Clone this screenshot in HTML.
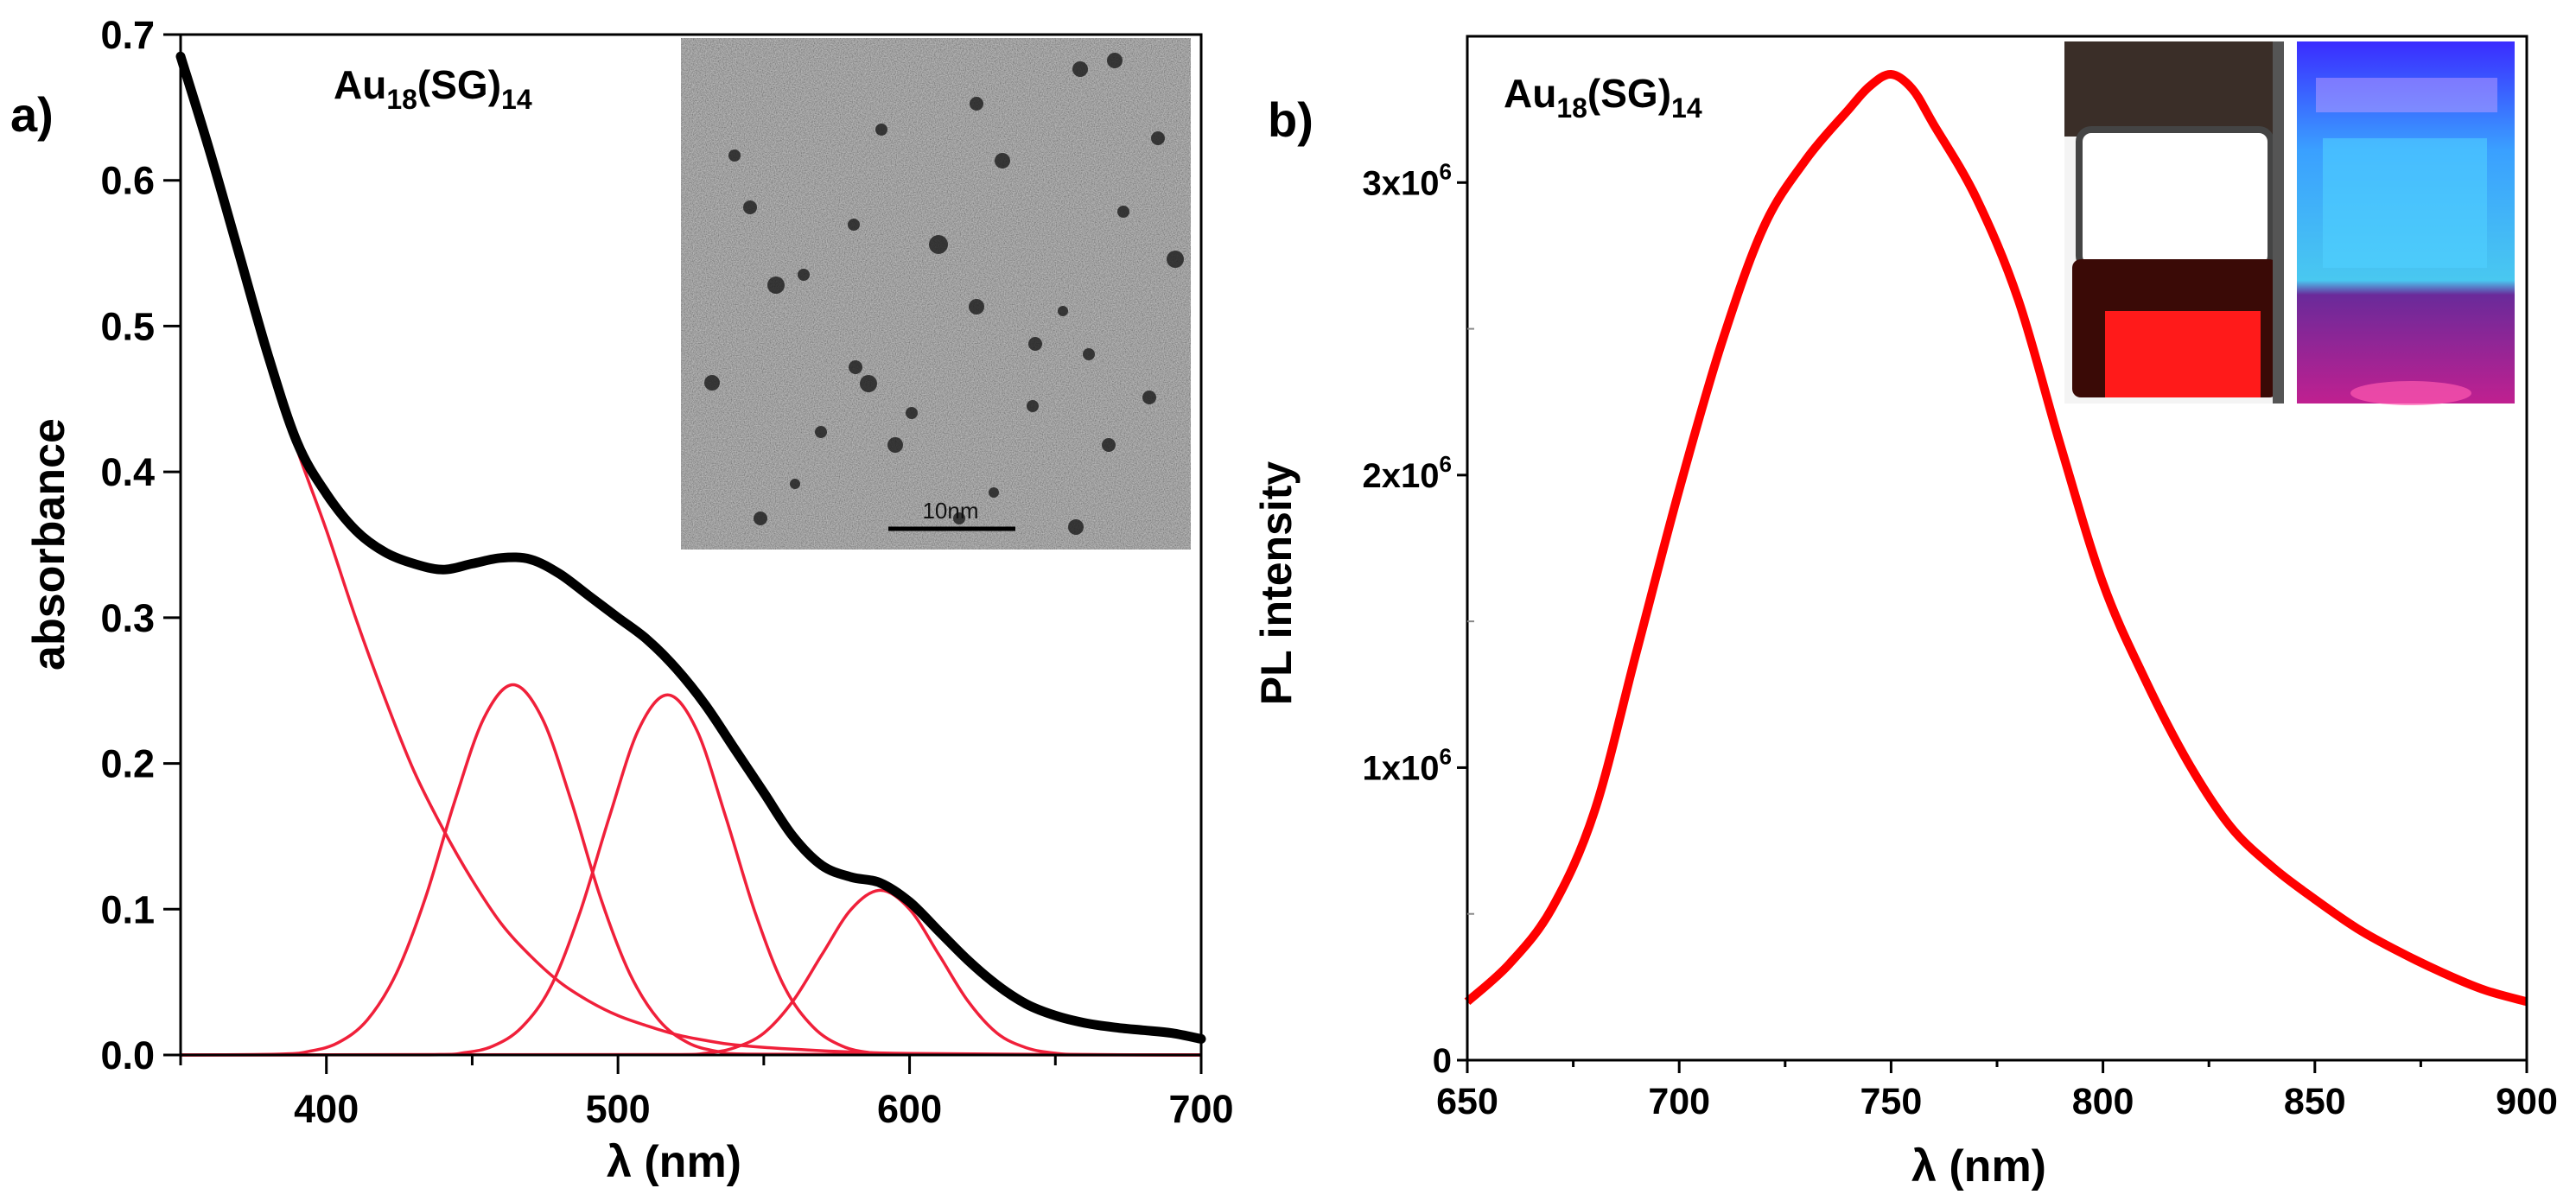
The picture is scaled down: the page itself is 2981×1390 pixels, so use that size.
<!DOCTYPE html>
<html><head><meta charset="utf-8">
<style>
html,body{margin:0;padding:0;background:#fff;}
svg{display:block;font-family:"Liberation Sans",Arial,sans-serif;font-weight:bold;}
</style></head>
<body>
<svg id="fig" width="2981" height="1390" viewBox="0 0 2981 1390" xmlns="http://www.w3.org/2000/svg">
<defs>
<filter id="noise" x="0" y="0" width="100%" height="100%">
<feTurbulence type="fractalNoise" baseFrequency="0.8" numOctaves="2" seed="3" result="t"/>
<feColorMatrix in="t" type="matrix" values="1.1 0 0 0 -0.05  1.1 0 0 0 -0.05  1.1 0 0 0 -0.05  0 0 0 0 1"/>
</filter>
<linearGradient id="blueg" x1="0" y1="0" x2="0" y2="1">
<stop offset="0" stop-color="#3a2cff"/><stop offset="0.3" stop-color="#3aa0ff"/><stop offset="0.66" stop-color="#49c8f0"/><stop offset="0.7" stop-color="#6a2a9a"/><stop offset="1" stop-color="#c02090"/>
</linearGradient>
</defs>
<g id="panelA"></g>
<g id="panelB"></g>
</svg>
<script>
// ---------- Panel a data ----------
const absX = [350,360,370,380,390,400,410,420,430,440,450,460,470,480,490,500,510,520,530,540,550,560,570,580,590,600,610,620,630,640,650,660,670,680,690,700];
const absY = [0.685,0.62,0.55,0.48,0.42,0.385,0.36,0.345,0.337,0.333,0.337,0.341,0.340,0.330,0.315,0.300,0.285,0.265,0.240,0.210,0.180,0.150,0.130,0.122,0.118,0.105,0.085,0.065,0.048,0.035,0.027,0.022,0.019,0.017,0.015,0.011];
const decayX = [350,360,370,380,390,400,410,420,430,440,450,460,470,480,490,500,510,520,530,540,560,600,700];
const decayY = [0.68,0.615,0.545,0.475,0.415,0.36,0.30,0.245,0.195,0.155,0.12,0.09,0.068,0.05,0.037,0.027,0.02,0.014,0.01,0.007,0.004,0.001,0.0];
const peak1X = [350,384,394,404,414,424,434,444,454,464,474,484,494,504,514,524,534,544,700];
const peak1Y = [0,0.0006,0.0025,0.0084,0.024,0.056,0.108,0.174,0.231,0.254,0.231,0.174,0.108,0.056,0.024,0.0084,0.0025,0.0006,0];
const peak2X = [350,437,447,457,467,477,487,497,507,517,527,537,547,557,567,577,587,597,700];
const peak2Y = [0,0.0003,0.0015,0.006,0.019,0.047,0.098,0.163,0.223,0.247,0.223,0.163,0.098,0.047,0.019,0.006,0.0015,0.0003,0];
const peak3X = [350,520,530,540,550,560,570,580,590,600,610,620,630,640,650,660,700];
const peak3Y = [0,0.0003,0.0012,0.005,0.015,0.037,0.069,0.100,0.113,0.100,0.069,0.037,0.015,0.005,0.0012,0.0003,0];
const aXTicks = [400,500,600,700];
const aXMinor = [450,550,650];
const aYTicks = [0,0.1,0.2,0.3,0.4,0.5,0.6,0.7];
const aYLabels = ["0.0","0.1","0.2","0.3","0.4","0.5","0.6","0.7"];

// ---------- Panel b data ----------
const plX = [650,660,670,680,690,700,710,720,730,740,745,750,755,760,770,780,790,800,810,820,830,840,850,860,870,880,890,900];
const plY = [0.2,0.33,0.52,0.85,1.4,1.95,2.45,2.85,3.08,3.25,3.33,3.37,3.32,3.2,2.95,2.6,2.1,1.63,1.3,1.02,0.8,0.66,0.55,0.45,0.37,0.3,0.24,0.2];
const bXTicks = [650,700,750,800,850,900];
const bXMinor = [675,725,775,825,875];
const bYTicks = [0,1,2,3];
const bYMinor = [0.5,1.5,2.5];

const NS = "http://www.w3.org/2000/svg";
function mk(parent, tag, attrs, text){
  const e = document.createElementNS(NS, tag);
  for (const k in attrs) e.setAttribute(k, attrs[k]);
  if (text !== undefined) e.textContent = text;
  parent.appendChild(e);
  return e;
}
// smooth path (monotone-ish Catmull-Rom)
function pathFrom(xs, ys, sx, sy){
  const P = xs.map((x,i)=>[sx(x), sy(ys[i])]);
  let d = "M"+P[0][0].toFixed(1)+","+P[0][1].toFixed(1);
  for (let i=0;i<P.length-1;i++){
    const p0=P[Math.max(0,i-1)], p1=P[i], p2=P[i+1], p3=P[Math.min(P.length-1,i+2)];
    const c1=[p1[0]+(p2[0]-p0[0])/6, p1[1]+(p2[1]-p0[1])/6];
    const c2=[p2[0]-(p3[0]-p1[0])/6, p2[1]-(p3[1]-p1[1])/6];
    c1[0]=Math.min(Math.max(c1[0],p1[0]),p2[0]); c2[0]=Math.min(Math.max(c2[0],p1[0]),p2[0]);
    const lo=Math.min(p1[1],p2[1]), hi=Math.max(p1[1],p2[1]);
    if (p1[1]===p2[1]){c1[1]=p1[1];c2[1]=p2[1];}
    d += " C"+c1[0].toFixed(1)+","+c1[1].toFixed(1)+" "+c2[0].toFixed(1)+","+c2[1].toFixed(1)+" "+p2[0].toFixed(1)+","+p2[1].toFixed(1);
  }
  return d;
}

// ===== Panel a =====
const A = document.getElementById('panelA');
const aL=209, aR=1390, aT=40, aB=1221;
const ax = v => aL + (v-350)/(700-350)*(aR-aL);
const ay = v => aB - (v-0)/(0.7)*(aB-aT);

// TEM inset
const tem = mk(A,'g',{});


mk(tem,'rect',{x:788,y:44,width:590,height:592,fill:'#808080'});
mk(tem,'rect',{x:788,y:44,width:590,height:592,filter:'url(#noise)',opacity:0.55});
const dots=[[1086,283,11],[1160,186,9],[898,330,10],[1130,355,9],[824,443,9],[1005,444,10],[1036,515,9],[1245,610,9],[1360,300,10],[990,425,8],[930,318,7],[1198,398,8],[868,240,8],[1250,80,9],[1290,70,9],[1130,120,8],[988,260,7],[1330,460,8],[1283,515,8],[1055,478,7],[1195,470,7],[1300,245,7],[1230,360,6],[880,600,8],[950,500,7],[1110,600,7],[1340,160,8],[1020,150,7],[850,180,7],[1150,570,6],[1260,410,7],[920,560,6]];
dots.forEach(d=>mk(tem,'circle',{cx:d[0],cy:d[1],r:d[2],fill:'#1a1a1a',opacity:0.8}));
mk(tem,'line',{x1:1028,y1:612,x2:1175,y2:612,stroke:'#000','stroke-width':5});
mk(tem,'text',{x:1100,y:600,'font-size':26,fill:'#111','text-anchor':'middle','font-weight':'normal'},'10nm');

// curves
const gauss = [[peak1X,peak1Y,'peak-1-464nm'],[peak2X,peak2Y,'peak-2-517nm'],[peak3X,peak3Y,'peak-3-590nm']];
gauss.forEach(g=>{
  const p = mk(A,'path',{d:pathFrom(g[0],g[1],ax,ay),fill:'none',stroke:'#f0203a','stroke-width':3.5,'stroke-linejoin':'round'});
  
  
});
const dec = mk(A,'path',{d:pathFrom(decayX,decayY,ax,ay),fill:'none',stroke:'#f0203a','stroke-width':3.5});


const abs = mk(A,'path',{d:pathFrom(absX,absY,ax,ay),fill:'none',stroke:'#000','stroke-width':11,'stroke-linejoin':'round','stroke-linecap':'round'});



// frame
const fa = mk(A,'rect',{x:aL,y:aT,width:aR-aL,height:aB-aT,fill:'none',stroke:'#000','stroke-width':3});


aXTicks.forEach(v=>{
  mk(A,'line',{x1:ax(v),y1:aB,x2:ax(v),y2:aB+22,stroke:'#000','stroke-width':3});
  const t = mk(A,'text',{x:ax(v),y:aB+78,'font-size':45,'text-anchor':'middle'},String(v));
  
  
});
aXMinor.forEach(v=>mk(A,'line',{x1:ax(v),y1:aB,x2:ax(v),y2:aB+12,stroke:'#000','stroke-width':3}));
mk(A,'line',{x1:aL,y1:aB,x2:aL,y2:aB+12,stroke:'#000','stroke-width':3});
aYTicks.forEach((v,i)=>{
  mk(A,'line',{x1:aL-20,y1:ay(v),x2:aL,y2:ay(v),stroke:'#000','stroke-width':3});
  const t = mk(A,'text',{x:aL-30,y:ay(v)+16,'font-size':45,'text-anchor':'end'},aYLabels[i]);
  
  
});
let t;
t = mk(A,'text',{x:780,y:1362,'font-size':52,'text-anchor':'middle'},'λ (nm)');
 
t = mk(A,'text',{x:0,y:0,'font-size':52,'text-anchor':'middle',transform:'translate(74,630) rotate(-90)'},'absorbance');
 
t = mk(A,'text',{x:12,y:152,'font-size':56},'a)');
 
t = mk(A,'text',{x:386,y:114,'font-size':46},'');
t.innerHTML = 'Au<tspan font-size="32" dy="12">18</tspan><tspan dy="-12">(SG)</tspan><tspan font-size="32" dy="12">14</tspan>';
 

// ===== Panel b =====
const B = document.getElementById('panelB');
const bL=1698, bR=2924, bT=42, bB=1227;
const bx = v => bL + (v-650)/(900-650)*(bR-bL);
const by = v => bB - v/3.5*(bB-bT);

// vial photos
const v1 = mk(B,'g',{});


mk(v1,'rect',{x:2389,y:48,width:254,height:419,fill:'#f4f4f4'});
mk(v1,'rect',{x:2389,y:48,width:254,height:110,fill:'#3a2e28'});
mk(v1,'rect',{x:2406,y:150,width:222,height:160,fill:'#ffffff',stroke:'#444','stroke-width':8,rx:14});
mk(v1,'rect',{x:2398,y:300,width:238,height:160,fill:'#3a0a06',rx:10});
mk(v1,'rect',{x:2436,y:360,width:180,height:100,fill:'#ff1a1a'});
mk(v1,'rect',{x:2630,y:48,width:13,height:419,fill:'#555'});
const v2 = mk(B,'g',{});


mk(v2,'rect',{x:2658,y:48,width:252,height:419,fill:'url(#blueg)'});
mk(v2,'rect',{x:2688,y:160,width:190,height:150,fill:'#50d0ff',opacity:0.6});
mk(v2,'rect',{x:2680,y:90,width:210,height:40,fill:'#c0a0ff',opacity:0.5});
mk(v2,'ellipse',{cx:2790,cy:455,rx:70,ry:14,fill:'#ff5ab0',opacity:0.7});

const pl = mk(B,'path',{d:pathFrom(plX,plY,bx,by),fill:'none',stroke:'#ff0000','stroke-width':10,'stroke-linejoin':'round'});



const fb = mk(B,'rect',{x:bL,y:bT,width:bR-bL,height:bB-bT,fill:'none',stroke:'#000','stroke-width':3});


bXTicks.forEach(v=>{
  mk(B,'line',{x1:bx(v),y1:bB,x2:bx(v),y2:bB+15,stroke:'#000','stroke-width':3});
  const tt = mk(B,'text',{x:bx(v),y:bB+62,'font-size':43,'text-anchor':'middle'},String(v));
  
  
});
bXMinor.forEach(v=>mk(B,'line',{x1:bx(v),y1:bB,x2:bx(v),y2:bB+8,stroke:'#000','stroke-width':3}));
bYTicks.forEach(v=>{
  mk(B,'line',{x1:bL-12,y1:by(v),x2:bL,y2:by(v),stroke:'#000','stroke-width':3});
  const tt = mk(B,'text',{x:bL-18,y:by(v)+14,'font-size':40,'text-anchor':'end'},'');
  if (v===0) tt.textContent='0';
  else tt.innerHTML = v+'x10<tspan font-size="26" dy="-18">6</tspan>';
  
  
});
bYMinor.forEach(v=>mk(B,'line',{x1:bL,y1:by(v),x2:bL+8,y2:by(v),stroke:'#888','stroke-width':2}));
t = mk(B,'text',{x:2290,y:1367,'font-size':52,'text-anchor':'middle'},'λ (nm)');
 
t = mk(B,'text',{x:0,y:0,'font-size':50,'text-anchor':'middle',transform:'translate(1494,675) rotate(-90)'},'PL intensity');
 
t = mk(B,'text',{x:1467,y:158,'font-size':56},'b)');
 
t = mk(B,'text',{x:1740,y:124,'font-size':46},'');
t.innerHTML = 'Au<tspan font-size="32" dy="12">18</tspan><tspan dy="-12">(SG)</tspan><tspan font-size="32" dy="12">14</tspan>';
 
</script>
</body></html>
